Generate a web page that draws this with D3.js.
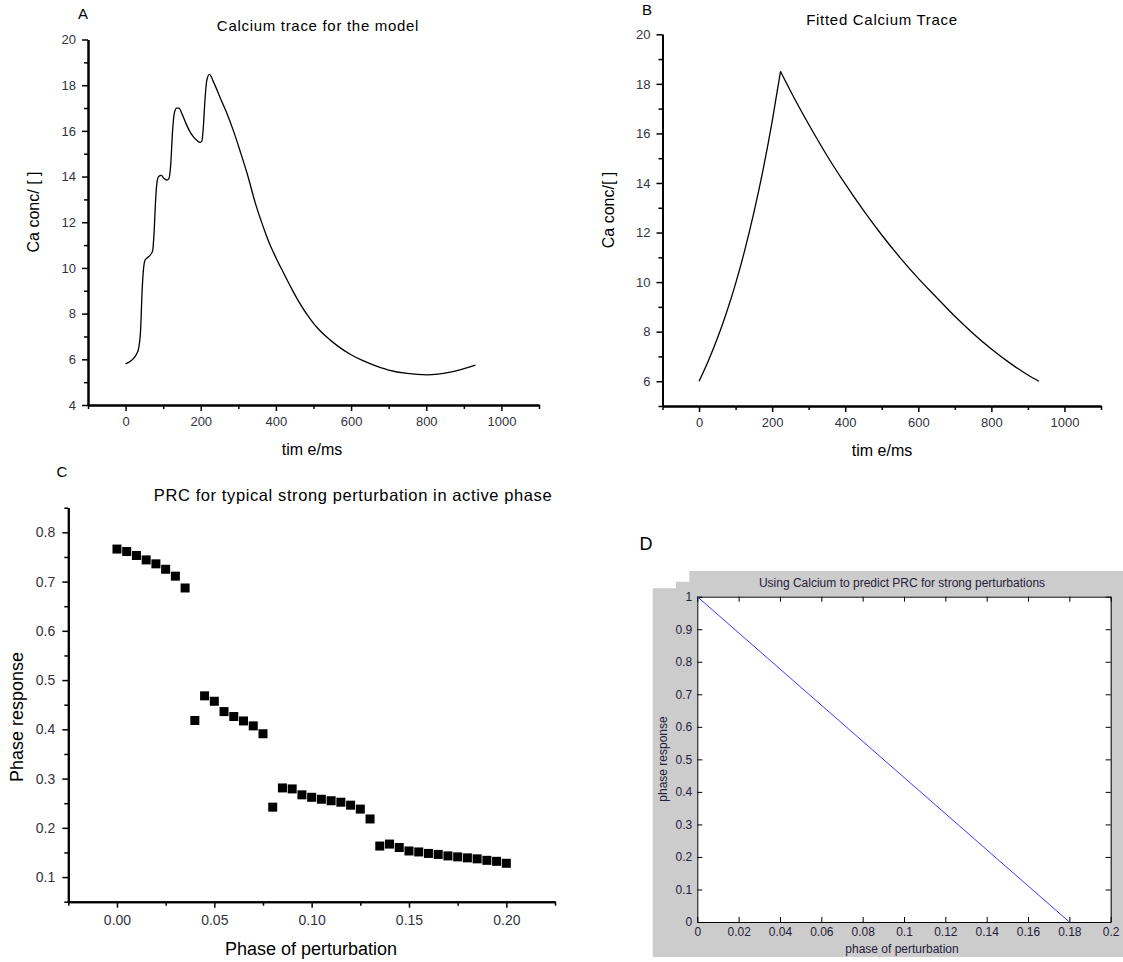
<!DOCTYPE html>
<html>
<head>
<meta charset="utf-8">
<script src="https://cdn.jsdelivr.net/npm/d3@7"></script>
<style>
  body { margin: 0; background: #fff; }
  text { font-family: 'Liberation Sans', Arial, sans-serif; }
</style>
</head>
<body>
<svg width="1123" height="962"></svg>
<script>
// A: calcium trace for the model
const timeA = [0, 10, 20, 30, 35, 40, 44, 48, 52, 58, 65, 72, 76, 80, 84, 88, 95, 103, 110, 115,
  120, 125, 130, 136, 142, 150, 160, 170, 180, 190, 198, 203, 207, 211, 216, 223, 235, 253, 270,
  287, 305, 324, 345, 363, 375, 386, 400, 421, 440, 460, 492, 510, 530, 563, 600, 630, 652, 700,
  749, 802, 864, 931];
const caA = [5.8, 5.88, 6.02, 6.25, 6.5, 7.3, 9.0, 10.0, 10.35, 10.45, 10.55, 10.75, 11.6, 13.0,
  13.8, 14.0, 14.05, 13.9, 13.85, 13.9, 14.5, 16.0, 16.8, 17.0, 17.0, 16.75, 16.35, 16.0, 15.75,
  15.58, 15.5, 15.55, 16.2, 17.3, 18.2, 18.47, 18.1, 17.4, 16.75, 16.0, 15.1, 14.1, 12.85, 11.95,
  11.4, 10.95, 10.45, 9.76, 9.15, 8.55, 7.75, 7.38, 7.05, 6.6, 6.2, 5.95, 5.8, 5.53, 5.38, 5.32,
  5.44, 5.75];

// B: fitted calcium trace (rise up to the peak at 223 ms, then decay)
const timeB = [0, 25, 50, 75, 100, 125, 150, 175, 200, 223, 260, 300, 350, 400, 450, 500, 550,
  600, 650, 700, 750, 800, 850, 900, 930];
const caB = [6.0, 6.81, 7.72, 8.76, 9.94, 11.28, 12.8, 14.52, 16.48, 18.5, 17.44, 16.37, 15.11,
  13.96, 12.89, 11.9, 10.99, 10.15, 9.38, 8.62, 7.93, 7.3, 6.74, 6.25, 6.0];
const peakB = 9; // index of the peak sample

// C: PRC for strong perturbation
const phaseC = [0, 0.005, 0.01, 0.015, 0.02, 0.025, 0.03, 0.035, 0.04, 0.045, 0.05, 0.055, 0.06,
  0.065, 0.07, 0.075, 0.08, 0.085, 0.09, 0.095, 0.1, 0.105, 0.11, 0.115, 0.12, 0.125, 0.13, 0.135,
  0.14, 0.145, 0.15, 0.155, 0.16, 0.165, 0.17, 0.175, 0.18, 0.185, 0.19, 0.195, 0.2];
const prcC = [0.766, 0.761, 0.753, 0.744, 0.736, 0.725, 0.711, 0.687, 0.418, 0.468, 0.457, 0.436,
  0.426, 0.417, 0.407, 0.391, 0.242, 0.281, 0.279, 0.267, 0.262, 0.258, 0.255, 0.252, 0.246, 0.238,
  0.218, 0.163, 0.167, 0.160, 0.153, 0.151, 0.148, 0.146, 0.143, 0.141, 0.139, 0.137, 0.134, 0.132,
  0.128];

// D: predicted PRC from calcium
const phaseD = [0, 0.18];
const prcD = [1, 0];

// tick values
const timeTicks = [0, 200, 400, 600, 800, 1000];
const timeMinor = [-100, 100, 300, 500, 700, 900, 1100];
const caTicksA = [4, 6, 8, 10, 12, 14, 16, 18, 20];
const caMinorA = [5, 7, 9, 11, 13, 15, 17, 19];
const caTicksB = [6, 8, 10, 12, 14, 16, 18, 20];
const caMinorB = [5, 7, 9, 11, 13, 15, 17, 19];
const phaseTicksC = [0, 0.05, 0.1, 0.15, 0.2];
const phaseMinorC = [-0.025, 0.025, 0.075, 0.125, 0.175, 0.225];
const prcTicksC = [0.1, 0.2, 0.3, 0.4, 0.5, 0.6, 0.7, 0.8];
const prcMinorC = [0.05, 0.15, 0.25, 0.35, 0.45, 0.55, 0.65, 0.75, 0.85];
const phaseTicksD = [0, 0.02, 0.04, 0.06, 0.08, 0.1, 0.12, 0.14, 0.16, 0.18, 0.2];
const prcTicksD = [0, 0.1, 0.2, 0.3, 0.4, 0.5, 0.6, 0.7, 0.8, 0.9, 1];

const svg = d3.select('svg');

function label(txt, x, y, size, opts = {}) {
  const t = svg.append('text')
      .attr('x', x).attr('y', y)
      .attr('dy', '0.35em')
      .attr('text-anchor', opts.anchor || 'middle')
      .attr('font-size', size)
      .attr('fill', opts.fill || '#000')
      .text(txt);
  if (opts.rotate) t.attr('transform', `rotate(-90,${x},${y})`);
  if (opts.family) t.attr('font-family', opts.family);
  if (opts.spacing) t.attr('letter-spacing', opts.spacing);
  return t;
}

// Origin style axes: left + bottom, ticks outward, minor ticks in between
function originAxes(x, y, o) {
  const y0 = y.range()[0], x0 = x.range()[0];
  const style = (sel, fs) => {
    sel.select('.domain').attr('stroke-width', 2);
    sel.selectAll('.tick line').attr('stroke-width', 1.5);
    sel.selectAll('.tick text').attr('font-size', fs).attr('fill', '#333340')
      .attr('font-family', "'Liberation Sans', Arial, sans-serif");
  };
  svg.append('g').attr('transform', `translate(0,${y0})`)
      .call(d3.axisBottom(x).tickValues(o.xMinor).tickSize(4).tickSizeOuter(0).tickFormat(''))
      .call(style, o.fs);
  svg.append('g').attr('transform', `translate(${x0},0)`)
      .call(d3.axisLeft(y).tickValues(o.yMinor).tickSize(4).tickSizeOuter(0).tickFormat(''))
      .call(style, o.fs);
  svg.append('g').attr('transform', `translate(0,${y0})`)
      .call(d3.axisBottom(x).tickValues(o.xTicks).tickSize(6).tickSizeOuter(0)
        .tickPadding(o.pad).tickFormat(o.xFmt))
      .call(style, o.fs);
  svg.append('g').attr('transform', `translate(${x0},0)`)
      .call(d3.axisLeft(y).tickValues(o.yTicks).tickSize(6).tickSizeOuter(0)
        .tickPadding(o.pad).tickFormat(o.yFmt))
      .call(style, o.fs);
}

// ---------- A ----------
const xA = d3.scaleLinear().domain([-100, 1100]).range([88, 539]);
const yA = d3.scaleLinear().domain([4, 20]).range([405, 39.5]);
originAxes(xA, yA, {xTicks: timeTicks, xMinor: timeMinor, yTicks: caTicksA, yMinor: caMinorA,
  fs: 13, pad: 6, xFmt: d3.format('d'), yFmt: d3.format('d')});
svg.append('path')
    .attr('d', d3.line().curve(d3.curveMonotoneX)
      .x((d, i) => xA(timeA[i])).y(d => yA(d))(caA))
    .attr('fill', 'none').attr('stroke', '#000').attr('stroke-width', 1.3);
label('A', 83, 14, 15);
label('Calcium trace for the model', 318, 26, 15, {spacing: 0.7});
label('Ca conc/ [ ]', 33, 212, 16, {rotate: true});
label('tim e/ms', 312, 449, 16);

// ---------- B ----------
const xB = d3.scaleLinear().domain([-100, 1100]).range([662.5, 1101]);
const yB = d3.scaleLinear().domain([5, 20]).range([406, 34.3]);
originAxes(xB, yB, {xTicks: timeTicks, xMinor: timeMinor, yTicks: caTicksB, yMinor: caMinorB,
  fs: 13, pad: 6, xFmt: d3.format('d'), yFmt: d3.format('d')});
const lineB = d3.line().curve(d3.curveMonotoneX).x(d => xB(d[0])).y(d => yB(d[1]));
const ptsB = d3.zip(timeB, caB);
// rise and decay drawn separately so the peak stays sharp
[ptsB.slice(0, peakB + 1), ptsB.slice(peakB)].forEach(seg => {
  svg.append('path')
      .attr('d', lineB(seg))
      .attr('fill', 'none').attr('stroke', '#000').attr('stroke-width', 1.3);
});
label('B', 647, 10, 15);
label('Fitted Calcium Trace', 882, 20, 15, {spacing: 0.7});
label('Ca conc/[ ]', 608, 210, 16, {rotate: true});
label('tim e/ms', 882, 450, 16);

// ---------- C ----------
const xC = d3.scaleLinear().domain([-0.025, 0.225]).range([68.3, 555]);
const yC = d3.scaleLinear().domain([0.05, 0.85]).range([901.7, 507.7]);
originAxes(xC, yC, {xTicks: phaseTicksC, xMinor: phaseMinorC, yTicks: prcTicksC, yMinor: prcMinorC,
  fs: 14, pad: 7, xFmt: d3.format('.2f'), yFmt: d3.format('.1f')});
svg.append('g').selectAll('rect')
    .data(prcC)
    .join('rect')
      .attr('x', (d, i) => xC(phaseC[i]) - 4.5)
      .attr('y', d => yC(d) - 4.5)
      .attr('width', 9).attr('height', 9)
      .attr('fill', '#000');
label('C', 62, 472, 15);
label('PRC for typical strong perturbation in active phase', 353, 495, 16.5, {spacing: 0.6});
label('Phase response', 17, 717, 18, {rotate: true});
label('Phase of perturbation', 311, 949, 18);

// ---------- D (matlab style figure) ----------
svg.append('path')
    .attr('d', 'M689.3,571H1123V957H652.7V588.3H676V581.7H689.3Z')
    .attr('fill', '#cccccc');
const xD = d3.scaleLinear().domain([0, 0.2]).range([697.3, 1110.7]);
const yD = d3.scaleLinear().domain([0, 1]).range([922, 596.7]);
svg.append('rect')
    .attr('x', xD(0)).attr('y', yD(1))
    .attr('width', xD(0.2) - xD(0)).attr('height', yD(0) - yD(1))
    .attr('fill', '#fff');
const fmtD = d3.format('~g');
const styleD = (sel) => {
  sel.select('.domain').attr('stroke', '#000').attr('stroke-width', 1);
  sel.selectAll('.tick text').attr('font-size', 12).attr('fill', '#26203a')
    .attr('font-family', "'Liberation Sans', Arial, sans-serif");
};
svg.append('g').attr('transform', `translate(0,${yD(0)})`)
    .call(d3.axisBottom(xD).tickValues(phaseTicksD).tickSize(-5).tickSizeOuter(0)
      .tickPadding(5).tickFormat(fmtD)).call(styleD);
svg.append('g').attr('transform', `translate(0,${yD(1)})`)
    .call(d3.axisTop(xD).tickValues(phaseTicksD).tickSize(-5).tickSizeOuter(0)
      .tickFormat('')).call(styleD);
svg.append('g').attr('transform', `translate(${xD(0)},0)`)
    .call(d3.axisLeft(yD).tickValues(prcTicksD).tickSize(-5).tickSizeOuter(0)
      .tickPadding(5).tickFormat(fmtD)).call(styleD);
svg.append('g').attr('transform', `translate(${xD(0.2)},0)`)
    .call(d3.axisRight(yD).tickValues(prcTicksD).tickSize(-5).tickSizeOuter(0)
      .tickFormat('')).call(styleD);
svg.append('path')
    .attr('d', d3.line().x((d, i) => xD(phaseD[i])).y(d => yD(d))(prcD))
    .attr('fill', 'none').attr('stroke', '#3a3aff').attr('stroke-width', 1);
label('D', 646, 544, 18, {family: "'Liberation Serif', 'Times New Roman', serif"});
label('Using Calcium to predict PRC for strong perturbations', 902, 583, 12, {fill: '#26203a'});
label('phase of perturbation', 902, 949, 12, {fill: '#26203a'});
label('phase response', 663, 759, 12, {rotate: true, fill: '#26203a'});
</script>
</body>
</html>
